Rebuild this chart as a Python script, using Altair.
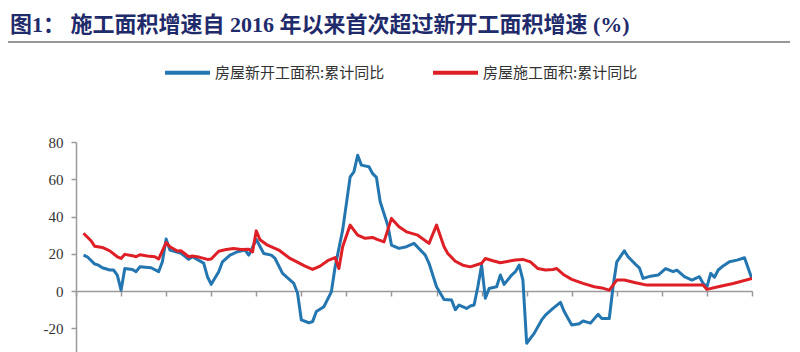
import altair as alt
import pandas as pd

SERIES = ["房屋新开工面积:累计同比", "房屋施工面积:累计同比"]
COLORS = ["#2376B0", "#DE1F26"]
TITLE = "图1： 施工面积增速自 2016 年以来首次超过新开工面积增速 (%)"

# month index (0 = start of the first year shown, ticks every 12 months)
blue_t = [2, 3, 5, 6, 7, 9, 10, 11, 12, 13,
          15, 16, 17, 20, 22, 23, 24, 25, 28, 30,
          31, 34, 35, 36, 38, 39, 41, 43, 45, 46,
          48, 50, 52, 53, 55, 58, 59, 60, 62, 63,
          64, 66, 68, 69, 71, 73, 74, 75, 76, 78,
          79, 80, 81, 83, 84, 86, 88, 90, 93, 94,
          96, 98, 100, 101, 102, 104, 105, 106, 107, 108,
          109, 110, 112, 113, 114, 116, 117, 118, 119, 120,
          122, 124, 125, 127, 129, 130, 132, 134, 135, 137,
          139, 140, 142, 143, 144, 146, 147, 149, 150, 151,
          153, 155, 157, 159, 160, 162, 164, 166, 167, 168,
          169, 170, 171, 172, 174, 176, 178, 180]
blue_v = [19.3, 18.4, 14.5, 13.9, 12.5, 11.3, 11.3, 8.6, 0.5, 12.1,
          11.6, 10.4, 13, 12.5, 10.4, 15.7, 27.9, 22, 20.2, 17,
          18.4, 15, 7.7, 3.6, 10.4, 15.7, 19.3, 21.1, 22, 19.3,
          27.7, 20.2, 19.3, 17.5, 9.5, 4.1, -1.2, -15.5, -17, -16.4,
          -11, -8.4, -0.4, 13, 32.7, 61.3, 64, 72.9, 67.6, 66.7,
          63, 61, 47.9, 35.4, 24.7, 22.9, 23.8, 25.6, 19.3, 14.9,
          2.3, -4.5, -4.8, -10, -7.5, -9.3, -8, -7.5, 2.3, 13.9,
          -3.9, 1.4, 2.3, 8.6, 3.6, 8.6, 10.4, 13.9, 5.9, -28,
          -22.7, -15.5, -12.9, -9.3, -6.1, -11, -18.2, -17.5, -16.1, -17.2,
          -12.5, -14.7, -14.7, 2.3, 15.7, 21.6, 18.4, 14.3, 12.5, 6.8,
          8, 8.6, 12.1, 10.4, 11.3, 7.7, 5.9, 7.7, 4.1, 2.3,
          9.5, 7.4, 11.3, 13, 15.7, 16.6, 17.9, 6.5]

red_t = [2, 4, 5, 7, 9, 11, 12, 13, 15, 16,
         17, 19, 21, 22, 24, 25, 27, 28, 30, 31,
         33, 35, 36, 38, 40, 42, 44, 46, 47, 48,
         49, 51, 54, 57, 61, 63, 65, 67, 69, 70,
         71, 73, 75, 77, 79, 80, 82, 83, 84, 86,
         88, 91, 94, 96, 98, 99, 101, 103, 105, 108,
         109, 111, 113, 117, 119, 121, 123, 125, 127, 128,
         130, 132, 135, 138, 140, 142, 144, 146, 149, 152,
         167, 168, 171, 175, 180]
red_v = [31, 27, 24, 23.4, 21.6, 18.4, 17.5, 19.7, 19, 18.4,
         19.5, 18.8, 18.4, 17.2, 26, 23.8, 21.5, 21.6, 18.4, 18.8,
         18.1, 17, 17.2, 21.4, 22.3, 22.9, 22.3, 22.5, 21, 32.3,
         27.5, 24.6, 22, 17.5, 13.4, 11.6, 13.4, 16.3, 18, 12.1,
         23.8, 35.4, 30, 28.3, 28.8, 27.9, 26.4, 32.7, 39, 34.5,
         31.8, 30, 25.6, 35.4, 23.8, 20.2, 16, 13.9, 13, 14.9,
         17.5, 16.3, 15.2, 16.7, 17, 15.7, 12.1, 11.3, 11.6, 12.1,
         8.6, 6.3, 4.1, 2.3, 1.7, 0.5, 5.9, 5.9, 4.5, 3.2,
         3.2, 0.9, 2.3, 4.1, 6.8]

Y_TICKS = [-20, 0, 20, 40, 60, 80]
X_TICKS = list(range(0, 181, 12))

rows = [{"t": t, "v": v, "s": SERIES[0], "k": 0} for t, v in zip(blue_t, blue_v)]
rows += [{"t": t, "v": v, "s": SERIES[1], "k": 1} for t, v in zip(red_t, red_v)]
df = pd.DataFrame(rows)

W, H = 676, 210
AX = "#9a9a9a"

lines = alt.Chart(df).mark_line(strokeWidth=3, clip=True, strokeJoin="round").encode(
    x=alt.X("t:Q", scale=alt.Scale(domain=[0, 180], nice=False, zero=False),
            axis=alt.Axis(values=X_TICKS, labels=False, title=None, grid=False,
                          offset=-61, tickSize=5, domainColor=AX, tickColor=AX,
                          domainWidth=1.5, tickWidth=1.5)),
    y=alt.Y("v:Q", scale=alt.Scale(domain=[-32.7, 80], nice=False, zero=False),
            axis=alt.Axis(values=Y_TICKS, title=None, grid=False,
                          labelExpr="'' + datum.value", labelFont="Liberation Serif",
                          labelFontSize=15, labelColor="#333333", labelPadding=8,
                          tickSize=5, domainColor=AX, tickColor=AX,
                          domainWidth=1.5, tickWidth=1.5)),
    color=alt.Color("s:N", scale=alt.Scale(domain=SERIES, range=COLORS),
                    legend=alt.Legend(title=None, orient="none", legendX=87, legendY=-94,
                                      direction="horizontal", symbolType="stroke",
                                      symbolStrokeWidth=4, symbolSize=2025,
                                      labelFont="Noto Sans CJK SC", labelFontSize=15,
                                      labelColor="#333333", columnPadding=40,
                                      labelOffset=3, labelLimit=400)),
    order=alt.Order("k:Q"),
)

rule = alt.Chart(pd.DataFrame({"a": [0]})).mark_rule(color="#333333", strokeWidth=1.2).encode(
    x=alt.value(-68), x2=alt.value(714), y=alt.value(-100)
)

chart = alt.layer(rule, lines).properties(
    width=W, height=H,
    title=alt.TitleParams(TITLE, anchor="start", frame="group", dx=-66, offset=4,
                          font="Liberation Serif, Noto Sans CJK SC", fontSize=22,
                          fontWeight="bold", color="#1F2B6B"),
    padding={"left": 76, "top": 142, "right": 48, "bottom": 0},
    autosize=alt.AutoSizeParams(type="none"),
    background="white",
).configure_view(stroke=None)

chart.save("out.html", embed_options={"renderer": "svg", "actions": False})
